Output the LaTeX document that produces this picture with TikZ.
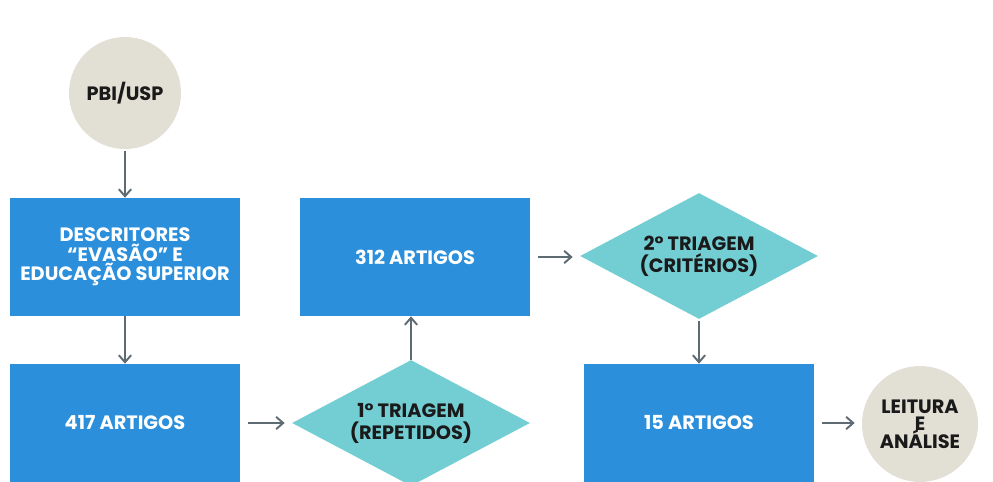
\documentclass[tikz,border=0pt]{standalone}
\usepackage{fontspec}
\setmainfont{Poppins}
\usepackage{tikz}
\usetikzlibrary{shapes.geometric,arrows.meta}

\definecolor{boxblue}{HTML}{2B8FDB}
\definecolor{triteal}{HTML}{73CED3}
\definecolor{endbeige}{HTML}{E2DFD4}
\definecolor{arrowgray}{HTML}{5F6B73}
\definecolor{inkdark}{HTML}{1A1A1A}

\begin{document}
\begin{tikzpicture}[x=0.02cm, y=-0.02cm,
    font=\bfseries\fontsize{11}{11}\selectfont,
    bluebox/.style={rectangle, fill=boxblue, text=white,
      minimum width=4.62cm, minimum height=2.36cm, align=center},
    triage/.style={diamond, fill=triteal, text=inkdark, aspect=1.9,
      minimum width=4.76cm, minimum height=2.52cm, inner sep=1pt, align=center},
    endpoint/.style={circle, fill=endbeige, text=inkdark, inner sep=0pt, align=center},
    flow/.style={draw=arrowgray, line width=1.1pt,
      -{Straight Barb[length=4pt,width=7pt]}}]
  % --- canvas ---
  \fill[white] (0,0) rectangle (993,482);
  \useasboundingbox (0,0) rectangle (993,482);
  \clip (0,0) rectangle (993,482);

  % --- left column ---
  \node[endpoint, minimum size=2.24cm] (pbi) at (125,93) {PBI/USP};
  \node[bluebox] (desc) at (125,257) {DESCRITORES\\“EVASÃO” E\\EDUCAÇÃO SUPERIOR};
  \node[bluebox] (a417) at (125,423) {417 ARTIGOS};

  % --- middle column ---
  \node[triage] (tri1) at (411,423) {1° TRIAGEM\\[1.5pt](REPETIDOS)};
  \node[bluebox] (a312) at (415,257) {312 ARTIGOS};

  % --- right column ---
  \node[triage] (tri2) at (699,256) {2° TRIAGEM\\[1.5pt](CRITÉRIOS)};
  \node[bluebox] (a15) at (699,423) {15 ARTIGOS};
  \node[endpoint, minimum size=2.32cm] (leit) at (920,424) {LEITURA\\[-1pt]E\\[-1pt]ANÁLISE};

  % --- connectors ---
  \draw[flow, shorten <=1pt] (pbi) -- (desc);
  \draw[flow] (desc) -- (a417);
  \draw[flow, shorten <=4pt, shorten >=4pt] (a417) -- (tri1);
  \draw[flow] (tri1.north) -- (tri1.north |- a312.south);
  \draw[flow, shorten <=4pt, shorten >=4pt] (a312.east) -- (a312.east -| tri2.west);
  \draw[flow, shorten <=1pt] (tri2.south) -- (tri2.south |- a15.north);
  \draw[flow, shorten <=4pt, shorten >=4pt] (a15.east) -- (a15.east -| leit.west);
\end{tikzpicture}
\end{document}
